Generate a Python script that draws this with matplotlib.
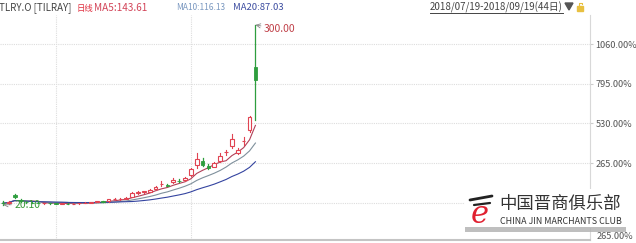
import numpy as np
import pandas as pd
import matplotlib
matplotlib.use("Agg")
import matplotlib.pyplot as plt
from matplotlib.patches import Rectangle, Polygon

plt.rcParams['font.family'] = ['Noto Sans CJK SC', 'DejaVu Sans']

# trading days 2018/07/19 - 2018/09/19 (Labor Day off)
dates = [d for d in pd.bdate_range('2018-07-19', '2018-09-19') if d != pd.Timestamp('2018-09-03')]

opens = [23.00, 22.60, 35.00, 28.00, 25.00, 23.50, 23.10, 22.40, 22.90, 22.30,
         21.80, 22.00, 21.60, 22.10, 22.80, 23.30, 24.20, 25.30, 25.20, 28.50,
         29.00, 29.60, 32.00, 38.80, 39.50, 40.50, 44.00, 52.00, 51.00, 55.00,
         57.50, 58.00, 66.00, 82.00, 88.00, 80.00, 79.50, 88.00, 101.50, 112.00,
         101.00, 119.00, 137.00, 234.00]
highs = [26.00, 25.50, 36.50, 29.00, 26.00, 24.20, 23.80, 23.20, 23.50, 22.90,
         22.50, 22.60, 22.40, 23.00, 23.60, 24.40, 25.60, 26.40, 29.00, 30.00,
         30.80, 31.50, 39.50, 41.50, 42.00, 44.80, 49.50, 57.00, 52.50, 61.00,
         59.50, 63.00, 78.00, 100.50, 92.50, 83.00, 87.00, 100.00, 106.00, 130.00,
         109.00, 125.00, 158.00, 300.00]
lows = [20.10, 22.00, 31.00, 24.50, 23.00, 22.50, 22.10, 21.60, 22.00, 21.40,
        21.20, 21.30, 21.00, 21.70, 22.20, 22.90, 23.60, 24.50, 25.00, 27.40,
        28.00, 28.80, 31.50, 37.50, 38.60, 40.00, 43.20, 49.50, 48.50, 54.00,
        55.50, 57.00, 65.00, 77.00, 80.00, 76.00, 78.50, 86.50, 97.50, 108.00,
        98.50, 113.00, 134.00, 152.00]
closes = [22.39, 24.80, 32.60, 25.20, 23.60, 23.00, 22.40, 22.80, 22.30, 21.70,
          22.10, 21.60, 22.00, 22.70, 23.30, 24.10, 25.20, 25.00, 28.40, 28.90,
          29.70, 30.20, 38.20, 39.20, 41.00, 43.00, 48.00, 53.00, 50.00, 58.00,
          57.00, 61.30, 76.00, 92.00, 82.00, 78.00, 85.00, 96.00, 102.20, 122.00,
          105.00, 120.00, 157.00, 214.06]

base_price = 23.3
pct_levels = [0, 265, 530, 795, 1060]

RED = '#e04452'
GREEN = '#2e9e3e'

s = pd.Series(closes)
ma5 = s.rolling(5, min_periods=1).mean()
ma10 = s.rolling(10, min_periods=1).mean()
ma20 = s.rolling(20, min_periods=1).mean()


def main():
    fig = plt.figure(figsize=(6.36, 2.43), dpi=100)
    ax = fig.add_axes([0, 3/243, 590/636, 225/243])
    x = np.arange(len(closes))

    # grid
    for p in pct_levels:
        ax.axhline(base_price*(1+p/100), color='#dddddd', lw=0.8, ls=(0, (1, 1)), zorder=0)
    for i in range(1, len(dates)):
        if dates[i].month != dates[i-1].month:
            ax.axvline(i, color='#dddddd', lw=0.8, ls=(0, (1, 1)), zorder=0)

    # candles
    w = 0.62
    for i in x:
        o, h, l, c = opens[i], highs[i], lows[i], closes[i]
        top, bot = max(o, c), min(o, c)
        if c >= o:
            ax.plot([i, i], [top, h], color=RED, lw=0.8, zorder=3)
            ax.plot([i, i], [l, bot], color=RED, lw=0.8, zorder=3)
            ax.add_patch(Rectangle((i-w/2, bot), w, max(top-bot, 0.4),
                                   facecolor='white', edgecolor=RED, lw=0.8, zorder=4))
        else:
            ax.plot([i, i], [l, h], color=GREEN, lw=0.9, zorder=3)
            ax.add_patch(Rectangle((i-w/2, bot), w, top-bot,
                                   facecolor=GREEN, edgecolor=GREEN, lw=0.6, zorder=4))

    ax.plot(x, ma5, color='#b04058', lw=0.8, zorder=2)
    ax.plot(x, ma10, color='#7f909c', lw=0.8, zorder=2)
    ax.plot(x, ma20, color='#3444a0', lw=0.8, zorder=2)

    # high / low marks
    ih = int(np.argmax(highs))
    il = int(np.argmin(lows))
    ax.annotate('%.2f' % highs[ih], xy=(ih, highs[ih]), xytext=(6, -3), textcoords='offset points',
                color='#c04048', fontsize=7.5, va='center', ha='left',
                arrowprops=dict(arrowstyle='->', color='#888888', lw=0.6, shrinkA=0, shrinkB=0))
    ax.annotate('%.2f' % lows[il], xy=(il, lows[il]), xytext=(8, 0), textcoords='offset points',
                color='#3a9a3a', fontsize=7.5, va='center', ha='left',
                arrowprops=dict(arrowstyle='->', color='#888888', lw=0.6, shrinkA=0, shrinkB=0))

    ax.set_xlim(-0.51, 100.0)
    ax.set_ylim(-34.8, 315.5)
    ax.yaxis.tick_right()
    ax.set_yticks([base_price*(1+p/100) for p in pct_levels[1:]])
    ax.set_yticklabels(['%.2f%%' % p for p in pct_levels[1:]])
    ax.tick_params(axis='y', length=2, color='#cccccc', labelsize=6.6, labelcolor='#555555', pad=2)
    ax.set_xticks([])
    for sp in ['top', 'left']:
        ax.spines[sp].set_visible(False)
    ax.spines['right'].set_color('#d8d8d8')
    ax.spines['bottom'].set_color('#c4c4c4')
    ax.spines['bottom'].set_linewidth(1.5)

    # overlay in pixel coordinates
    ov = fig.add_axes([0, 0, 1, 1], zorder=10)
    ov.set_xlim(0, 636)
    ov.set_ylim(243, 0)
    ov.axis('off')
    ov.patch.set_alpha(0)

    ov.text(-1, 8, 'TLRY.O [TILRAY]', color='#444444', fontsize=7.0, va='center')
    ov.text(77, 8, '日线', color='#e03040', fontsize=6.0, va='center')
    ov.text(94, 8, 'MA5:%.2f' % ma5.iloc[-1], color='#d24458', fontsize=7.2, va='center')
    ov.text(176, 8, 'MA10:%.2f' % ma10.iloc[-1], color='#7a98c0', fontsize=6.0, va='center')
    ov.text(233, 8, 'MA20:%.2f' % ma20.iloc[-1], color='#3c4ca0', fontsize=6.8, va='center')

    rng = '%s-%s(%d日)' % (dates[0].strftime('%Y/%m/%d'), dates[-1].strftime('%Y/%m/%d'), len(dates))
    ov.text(430, 7, rng, color='#444444', fontsize=7, va='center')
    ov.plot([430, 563], [13, 13], color='#444444', lw=0.7)
    ov.add_patch(Polygon([(565, 3), (573, 3), (569, 10)], closed=True, color='#555555'))
    ov.add_patch(Rectangle((577, 6), 6, 5, color='#e8c040'))
    ov.plot([579, 579, 582, 582], [6, 3, 3, 4], color='#e8c040', lw=0.8)

    ov.text(597, 236, '265.00%', color='#555555', fontsize=6.6, va='center')

    # watermark
    ov.add_patch(Rectangle((465, 189), 161, 39, facecolor='white', edgecolor='none'))
    ov.add_patch(Rectangle((465, 227), 161, 5, facecolor='#b0b0b0', edgecolor='none', alpha=0.8))
    ov.text(480, 214, 'e', color='#e02030', fontsize=22, style='italic',
            family='DejaVu Serif', ha='center', va='center')
    ov.plot([470, 492], [200, 196], color='#222222', lw=2.0, solid_capstyle='round')
    ov.plot([474, 490], [205, 203], color='#222222', lw=1.6, solid_capstyle='round')
    ov.text(499, 204, '中国晋商俱乐部', color='#333333', fontsize=12.5, va='center')
    ov.text(500, 221, 'CHINA JIN MARCHANTS CLUB', color='#333333', fontsize=6.4, va='center')

    fig.savefig('out.png', dpi=100)


if __name__ == '__main__':
    main()
